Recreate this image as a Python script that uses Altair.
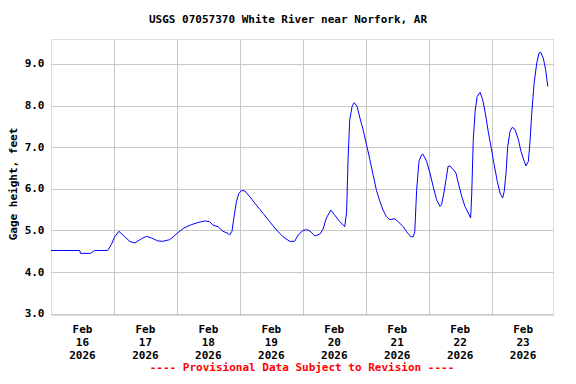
import altair as alt
import pandas as pd

TITLE = "USGS 07057370 White River near Norfork, AR"
Y_TITLE = "Gage height, feet"
FOOTER = "---- Provisional Data Subject to Revision ----"

# hours since 2026-02-16 00:00 and gage height (feet)
hours = [0.0, 10.9, 11.3, 15.1, 16.6, 21.6, 23.0, 24.3, 25.9, 28.1, 30.0, 31.9, 34.5, 36.4,
         38.3, 40.7, 42.6, 45.3, 47.2, 48.4, 50.7, 53.5, 56.0, 58.6, 60.5, 61.8, 63.7, 65.6,
         67.5, 68.1, 69.0, 69.8, 70.7, 71.6, 72.6, 73.9, 75.8, 78.3, 80.9, 83.4, 86.0, 88.5,
         91.0, 92.9, 94.2, 96.1, 97.4, 98.7, 100.6, 102.5, 103.7, 105.0, 106.7, 107.9, 109.9,
         111.4, 112.0, 112.7, 113.3, 113.9, 114.8, 115.6, 116.7, 117.8, 119.0, 120.3, 121.6,
         122.8, 124.1, 125.4, 126.6, 127.9, 129.2, 131.1, 132.4, 134.3, 135.6, 137.2, 138.1,
         138.7, 139.4, 140.3, 141.3, 141.7, 142.6, 143.2, 144.5, 145.7, 147.0, 148.3, 148.9,
         149.8, 150.6, 151.4, 152.1, 153.4, 154.4, 155.3, 156.6, 157.8, 159.1, 160.0, 160.4,
         161.0, 161.7, 162.5, 163.6, 164.6, 165.6, 166.7, 167.8, 168.9, 170.1, 171.2, 172.2,
         172.8, 173.5, 174.1, 175.0, 175.9, 176.9, 178.2, 179.2, 180.4, 181.1, 182.0, 182.6,
         183.3, 184.2, 185.2, 186.1, 186.7, 187.7, 188.6, 189.4]
gage = [4.52, 4.52, 4.45, 4.45, 4.52, 4.52, 4.66, 4.85, 4.98, 4.85, 4.74, 4.70, 4.80, 4.86,
        4.82, 4.75, 4.74, 4.78, 4.88, 4.95, 5.06, 5.14, 5.19, 5.23, 5.21, 5.13, 5.09, 4.98,
        4.93, 4.89, 4.98, 5.33, 5.69, 5.89, 5.96, 5.95, 5.81, 5.61, 5.41, 5.21, 5.01, 4.85,
        4.74, 4.74, 4.89, 5.00, 5.02, 4.99, 4.87, 4.91, 5.03, 5.30, 5.49, 5.39, 5.23,
        5.13, 5.09, 5.44, 6.78, 7.66, 7.98, 8.07, 7.98, 7.70, 7.42, 7.06, 6.70,
        6.34, 5.96, 5.70, 5.49, 5.33, 5.26, 5.28, 5.21, 5.09, 4.97, 4.85, 4.85,
        4.97, 5.96, 6.66, 6.82, 6.84, 6.74, 6.66, 6.38, 6.06, 5.74, 5.58, 5.62,
        5.90, 6.22, 6.54, 6.55, 6.46, 6.38, 6.14, 5.82, 5.58, 5.42, 5.30, 5.86,
        7.18, 7.86, 8.22, 8.32, 8.14, 7.82, 7.38, 7.00, 6.60, 6.20, 5.90, 5.78,
        5.94, 6.38, 7.00, 7.38, 7.48, 7.43, 7.18, 6.90, 6.67, 6.55, 6.66, 7.10,
        7.82, 8.54, 9.02, 9.27, 9.28, 9.14, 8.86, 8.46]

day_numbers = [16, 17, 18, 19, 20, 21, 22, 23]
y_ticks = [3, 4, 5, 6, 7, 8, 9]

start = pd.Timestamp("2026-02-16T00:00:00Z")
df = pd.DataFrame({
    "time": [(start + pd.Timedelta(hours=h)).strftime("%Y-%m-%dT%H:%M:%SZ") for h in hours],
    "gage": gage,
})
labels = pd.DataFrame({
    "time": [pd.Timestamp(f"2026-02-{d}T12:00:00Z").strftime("%Y-%m-%dT%H:%M:%SZ") for d in day_numbers],
    "label": [f"Feb\n{d}\n2026" for d in day_numbers],
})

W, H = 502, 276
FONT = "DejaVu Sans Mono"

x_scale = alt.Scale(
    type="utc",
    domain=[alt.DateTime(year=2026, month=2, date=16, utc=True),
            alt.DateTime(year=2026, month=2, date=23, hours=23, minutes=24, utc=True)],
)
grid_days = [alt.DateTime(year=2026, month=2, date=d, utc=True) for d in range(17, 24)]

line = alt.Chart(df).mark_line(color="#0000ff", strokeWidth=1, clip=True).encode(
    x=alt.X("time:T", scale=x_scale,
            axis=alt.Axis(values=grid_days, labels=False, ticks=False, domain=False,
                          title=None, grid=True, gridColor="#c8c8c8", gridWidth=1)),
    y=alt.Y("gage:Q", scale=alt.Scale(domain=[2.97, 9.6], nice=False, zero=False),
            axis=alt.Axis(values=y_ticks, format=".1f", ticks=False, domain=False,
                          title=None, grid=True, gridColor="#c8c8c8", gridWidth=1,
                          labelFont=FONT, labelFontWeight="bold", labelFontSize=11,
                          labelColor="black", labelPadding=7)),
)

xlabels = alt.Chart(labels).mark_text(
    lineBreak="\n", baseline="top", align="center", font=FONT, fontWeight="bold",
    fontSize=11, lineHeight=13, color="black",
).encode(x=alt.X("time:T", scale=x_scale), y=alt.value(H + 9), text="label:N")

title = alt.Chart(pd.DataFrame({"t": [TITLE]})).mark_text(
    font=FONT, fontWeight="bold", fontSize=11, color="black", align="center", baseline="middle",
).encode(x=alt.value(237), y=alt.value(-19), text="t:N")

ytitle = alt.Chart(pd.DataFrame({"t": [Y_TITLE]})).mark_text(
    font=FONT, fontWeight="bold", fontSize=11, color="black", align="center",
    baseline="middle", angle=270,
).encode(x=alt.value(-37), y=alt.value(145), text="t:N")

footer = alt.Chart(pd.DataFrame({"t": [FOOTER]})).mark_text(
    font=FONT, fontWeight="bold", fontSize=11, color="#ff0000", align="center", baseline="middle",
).encode(x=alt.value(251), y=alt.value(329), text="t:N")

chart = alt.layer(line, xlabels, title, ytitle, footer).properties(
    width=W, height=H,
    autosize=alt.AutoSizeParams(type="none"),
    padding={"left": 43, "top": 31, "right": 15, "bottom": 61},
).configure_view(stroke="black", strokeWidth=1).configure(background="white")

chart.save("out.html", embed_options={"renderer": "svg", "actions": False})
